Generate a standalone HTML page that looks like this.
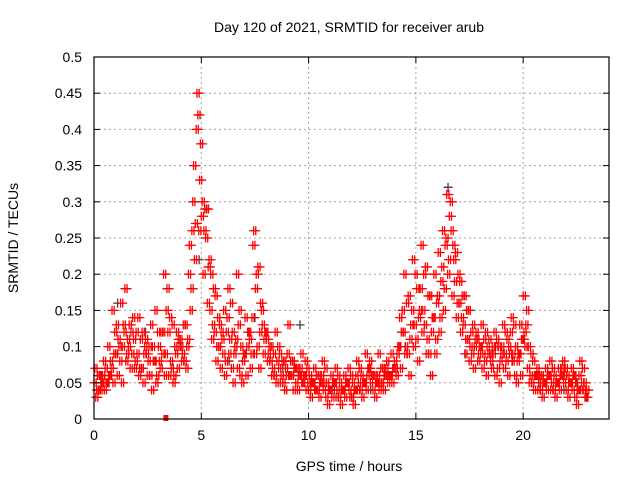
<!DOCTYPE html>
<html><head><meta charset="utf-8"><style>
body{margin:0;background:#fff}
svg{display:block;font-family:"Liberation Sans",sans-serif}
</style></head><body>
<svg id="chart" width="640" height="480" viewBox="0 0 640 480">
<rect width="640" height="480" fill="#fff"/>
<text x="349" y="32" text-anchor="middle" font-size="14">Day 120 of 2021, SRMTID for receiver arub</text>
<text x="349" y="471" text-anchor="middle" font-size="14">GPS time / hours</text>
<text transform="translate(18,238) rotate(-90)" text-anchor="middle" font-size="14">SRMTID / TECUs</text>
<g id="grid"></g>
<g id="marks"></g>
<rect x="94" y="57" width="515" height="362" fill="none" stroke="#000" stroke-width="1.2"/>
<g id="ticks"></g>
</svg>
<script>
const xTicks=[0,5,10,15,20];
const yTicks=[0,0.05,0.1,0.15,0.2,0.25,0.3,0.35,0.4,0.45,0.5];
const yTickLabels=["0","0.05","0.1","0.15","0.2","0.25","0.3","0.35","0.4","0.45","0.5"];
const startHour=0.0, stepHour=0.2;
const seriesA=[.05,.04,.06,.05,.07,.09,.08,.12,.10,.14,
.09,.07,.11,.06,.08,.10,.12,.18,.07,.09,
.11,.08,.20,.30,.45,.28,.25,.15,.12,.10,
.09,.14,.07,.11,.06,.09,.12,.24,.10,.15,
.12,.08,.06,.07,.05,.09,.06,.05,.07,.06,
.04,.05,.04,.06,.03,.04,.05,.03,.04,.05,
.03,.06,.04,.05,.07,.04,.06,.05,.07,.06,
.08,.10,.12,.09,.15,.11,.18,.13,.09,.14,
.17,.21,.25,.30,.19,.16,.13,.11,.09,.12,
.10,.08,.11,.09,.07,.10,.08,.12,.06,.09,
.17,.07,.05,.06,.04,.05,.06,.04,.05,.07,
.04,.05,.03,.06,.04];
const seriesB=[.07,.06,.08,.10,.15,.13,.16,.18,.13,.11,
.14,.12,.09,.13,.15,.08,.20,.12,.13,.12,
.10,.13,.24,.35,.42,.30,.29,.20,.17,.13,
.15,.18,.12,.20,.10,.14,.11,.26,.21,.13,
.11,.10,.12,.09,.08,.13,.08,.07,.09,.08,
.06,.07,.06,.08,.05,.06,.07,.05,.06,.07,
.05,.08,.06,.09,.08,.06,.09,.07,.08,.09,
.07,.14,.20,.17,.22,.18,.24,.21,.17,.20,
.23,.26,.31,.26,.23,.19,.17,.15,.13,.11,
.13,.12,.09,.12,.10,.13,.11,.14,.10,.13,
.12,.10,.08,.07,.06,.07,.08,.06,.07,.08,
.06,.07,.05,.08,.05];
const seriesC=[.03,.04,.04,.06,.05,.06,.05,.08,.07,.07,
.06,.05,.06,.04,.05,.07,.06,.06,.05,.07,
.08,.07,.15,.22,.26,.20,.16,.11,.08,.07,
.06,.09,.05,.07,.05,.06,.07,.09,.07,.09,
.08,.06,.05,.05,.04,.06,.04,.04,.05,.04,
.03,.04,.03,.04,.02,.03,.03,.02,.03,.04,
.02,.04,.03,.04,.05,.03,.04,.04,.05,.05,
.06,.07,.09,.06,.10,.08,.12,.09,.06,.09,
.12,.15,.20,.17,.14,.12,.09,.08,.07,.08,
.07,.06,.08,.06,.05,.07,.06,.08,.05,.06,
.10,.05,.04,.04,.03,.04,.04,.03,.04,.05,
.03,.04,.02,.04,.03];
const seriesD=[.04,.05,.07,.06,.09,.11,.10,.09,.12,.08,
.07,.09,.08,.10,.06,.12,.09,.14,.06,.11,
.09,.10,.18,.27,.33,.26,.21,.13,.10,.12,
.08,.11,.09,.13,.08,.10,.09,.18,.12,.11,
.09,.07,.08,.06,.07,.06,.07,.06,.05,.07,
.05,.04,.05,.05,.04,.05,.04,.04,.05,.03,
.04,.05,.05,.06,.06,.05,.05,.06,.06,.07,
.09,.12,.10,.11,.13,.14,.15,.11,.12,.11,
.14,.18,.22,.24,.16,.14,.11,.10,.10,.09,
.09,.10,.07,.10,.08,.09,.10,.09,.08,.11,
.13,.06,.06,.05,.05,.06,.05,.05,.06,.06,
.05,.06,.04,.05,.03];
const seriesE=[.06,.05,.05,.08,.12,.10,.13,.11,.09,.12,
.11,.10,.10,.08,.12,.09,.15,.08,.10,.10,
.13,.11,.26,.40,.38,.29,.22,.18,.14,.11,
.12,.16,.10,.15,.09,.12,.14,.20,.16,.12,
.10,.09,.10,.08,.06,.08,.07,.06,.06,.05,
.05,.06,.05,.07,.04,.05,.06,.04,.05,.06,
.04,.07,.05,.07,.06,.05,.07,.06,.06,.07,
.10,.15,.16,.13,.20,.15,.20,.17,.14,.16,
.19,.24,.28,.22,.20,.17,.15,.12,.11,.10,
.11,.09,.10,.11,.09,.12,.09,.13,.09,.11,
.15,.09,.06,.06,.05,.06,.07,.05,.06,.07,
.05,.06,.04,.07,.04];
const grayHours=[0.3,1.1,2.4,3.7,4.9,6.3,7.5,8.8,9.6,11.2,12.9,14.5,15.4,16.5,17.3,18.7,19.5,20.8,21.9,22.5];
const grayValues=[.06,.16,.12,.07,.22,.08,.14,.07,.13,.04,.04,.10,.13,.32,.09,.10,.08,.05,.04,.05];

const X0=94,X1=609,Y0=419,Y1=57,XMAX=24,YMAX=0.5;
const sx=h=>X0+h/XMAX*(X1-X0);
const sy=v=>Y0-v/YMAX*(Y0-Y1);
const NS="http://www.w3.org/2000/svg";
const grid=document.getElementById('grid'),ticks=document.getElementById('ticks'),marks=document.getElementById('marks');
function mk(tag,attrs,parent){const e=document.createElementNS(NS,tag);for(const k in attrs)e.setAttribute(k,attrs[k]);parent.appendChild(e);return e;}
xTicks.forEach(t=>{
  const x=sx(t);
  if(t>0){const g=mk('line',{x1:x,x2:x,y1:Y0,y2:Y1,stroke:'#a0a0a0','stroke-dasharray':'2,3'},grid);
  
  }
  mk('line',{x1:x,x2:x,y1:Y0,y2:Y0-6,stroke:'#000'},ticks);
  mk('line',{x1:x,x2:x,y1:Y1,y2:Y1+6,stroke:'#000'},ticks);
  const tx=mk('text',{x:x,y:Y0+21,'text-anchor':'middle','font-size':14},ticks);
  tx.textContent=String(t);
  
  
});
yTicks.forEach((t,i)=>{
  const y=sy(t);
  if(t>0&&t<YMAX){const g=mk('line',{x1:X0,x2:X1,y1:y,y2:y,stroke:'#a0a0a0','stroke-dasharray':'2,3'},grid);
  
  }
  mk('line',{x1:X0,x2:X0+6,y1:y,y2:y,stroke:'#000'},ticks);
  mk('line',{x1:X1,x2:X1-6,y1:y,y2:y,stroke:'#000'},ticks);
  const tx=mk('text',{x:X0-12,y:y+5,'text-anchor':'end','font-size':14},ticks);
  tx.textContent=yTickLabels[i];
  
  
});
function plus(h,v,color,name){
  const x=sx(h),y=sy(v),r=4.5;
  const p=mk('path',{d:`M${x-r},${y}H${x+r}M${x},${y-r}V${y+r}`,stroke:color,'stroke-width':1.3,fill:'none'},marks);
  
  
}
grayHours.forEach((h,i)=>plus(h,grayValues[i],'#404040','gray-point'));
[seriesA,seriesB,seriesC,seriesD,seriesE].forEach((s,k)=>s.forEach((v,i)=>{
  plus(startHour+i*stepHour+k*0.04,v,'#ff0000','red-point');
  plus(startHour+i*stepHour+k*0.04+0.1,v,'#ff0000','red-point');
}));
const z=mk('rect',{x:sx(3.35)-2.5,y:Y0-4,width:5,height:6,fill:'#ff0000'},marks);


</script>
</body></html>
